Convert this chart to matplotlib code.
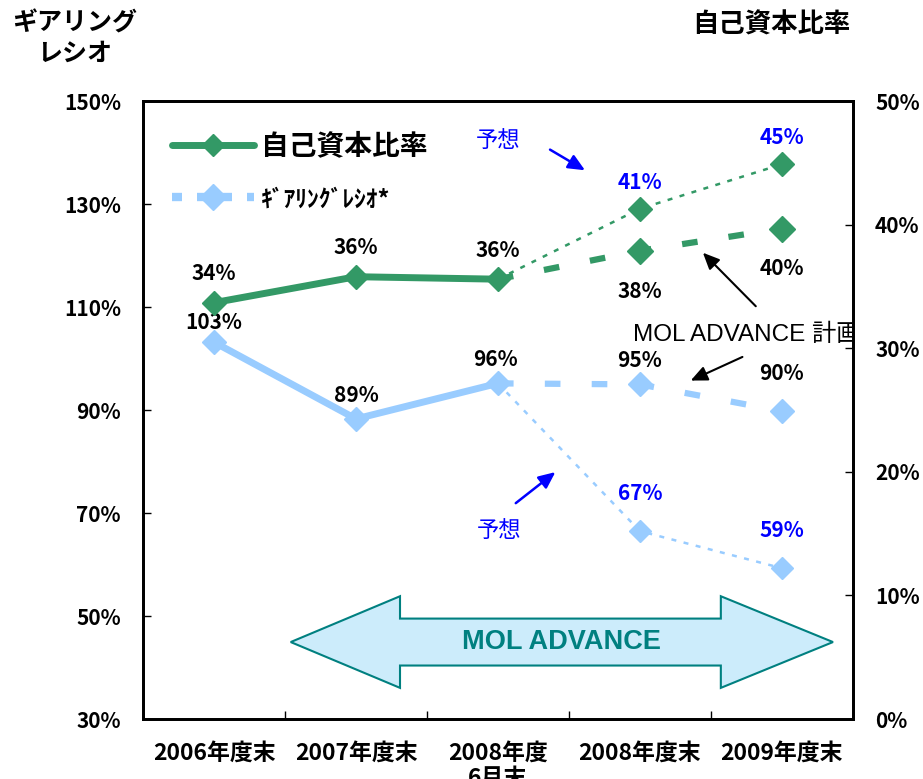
import matplotlib
matplotlib.use("Agg")
import matplotlib.pyplot as plt
from matplotlib.patches import Polygon
from matplotlib.lines import Line2D

plt.rcParams['font.family'] = ['Liberation Sans Narrow', 'Noto Sans CJK JP', 'DejaVu Sans']

categories = ["2006年度末", "2007年度末", "2008年度\n6月末", "2008年度末", "2009年度末"]

# equity ratio (right axis, %)
equity_actual = [33.7, 35.8, 35.6]
equity_plan = [35.6, 37.9, 39.7]
equity_fcst = [35.6, 41.3, 44.9]
equity_labels_actual = ["34%", "36%", "36%"]
equity_labels_plan = ["38%", "40%"]
equity_labels_fcst = ["41%", "45%"]

# gearing ratio (left axis, %)
gear_actual = [103.2, 88.3, 95.2]
gear_plan = [95.2, 95.0, 89.8]
gear_fcst = [95.2, 66.5, 59.3]
gear_labels_actual = ["103%", "89%", "96%"]
gear_labels_plan = ["95%", "90%"]
gear_labels_fcst = ["67%", "59%"]

left_ticks = [30, 50, 70, 90, 110, 130, 150]
right_ticks = [0, 10, 20, 30, 40, 50]

GREEN = "#339966"
LBLUE = "#99ccff"
TEAL = "#008080"

x_act = [0, 1, 2]
x_fut = [2, 3, 4]

fig = plt.figure(figsize=(9.23, 7.79), dpi=100)
ax = fig.add_axes([0.155, 0.077, 0.769, 0.793])
ax2 = ax.twinx()

ax.set_xlim(-0.5, 4.5)
ax.set_ylim(30, 150)
ax2.set_ylim(0, 50)

# gearing lines
ax.plot(x_act, gear_actual, color=LBLUE, lw=5, marker="D", ms=12, zorder=3)
ax.plot(x_fut, gear_plan, color=LBLUE, lw=4.5, dashes=(2.5, 5), marker="D", ms=12,
        markevery=[1, 2], zorder=3)
ax.plot(x_fut, gear_fcst, color=LBLUE, lw=1.8, dashes=(2, 3), marker="D", ms=11,
        markevery=[1, 2], zorder=3)

# equity lines
ax2.plot(x_act, equity_actual, color=GREEN, lw=5, marker="D", ms=12, zorder=3)
ax2.plot(x_fut, equity_plan, color=GREEN, lw=4.5, dashes=(2.5, 5), marker="D", ms=13,
         markevery=[1, 2], zorder=3)
ax2.plot(x_fut, equity_fcst, color=GREEN, lw=1.8, dashes=(2, 3), marker="D", ms=12,
         markevery=[1, 2], zorder=3)

lab = dict(fontsize=15, fontweight="bold", ha="center", va="center",
           textcoords="offset points")
for i, t in enumerate(equity_labels_actual):
    ax2.annotate(t, (x_act[i], equity_actual[i]), xytext=(0, 21), color="black", **lab)
for i, t in enumerate(equity_labels_plan):
    ax2.annotate(t, (x_fut[i + 1], equity_plan[i + 1]), xytext=(0, -29), color="black", **lab)
for i, t in enumerate(equity_labels_fcst):
    ax2.annotate(t, (x_fut[i + 1], equity_fcst[i + 1]), xytext=(0, 19), color="blue", **lab)
gear_off = [(0, 14), (0, 17), (-2, 17)]
for i, t in enumerate(gear_labels_actual):
    ax.annotate(t, (x_act[i], gear_actual[i]), xytext=gear_off[i], color="black", **lab)
gear_plan_off = [(0, 17), (0, 27)]
for i, t in enumerate(gear_labels_plan):
    ax.annotate(t, (x_fut[i + 1], gear_plan[i + 1]), xytext=gear_plan_off[i], color="black", **lab)
for i, t in enumerate(gear_labels_fcst):
    ax.annotate(t, (x_fut[i + 1], gear_fcst[i + 1]), xytext=(0, 27), color="blue", **lab)

# forecast notes
blue_arrow = dict(arrowstyle="-|>,head_length=1.0,head_width=0.45", color="blue", lw=1.8)
ax2.text(2.0, 46.8, "予想", color="blue", fontsize=16, ha="center", va="center",
         family=["Noto Sans CJK JP"])
ax2.annotate("", xy=(2.63, 44.3), xytext=(2.35, 46.2), arrowprops=blue_arrow)
ax.text(2.01, 66.7, "予想", color="blue", fontsize=16, ha="center", va="center",
        family=["Noto Sans CJK JP"])
ax.annotate("", xy=(2.42, 78.3), xytext=(2.11, 71.6), arrowprops=blue_arrow)

# plan note
black_arrow = dict(arrowstyle="-|>,head_length=1.0,head_width=0.45", color="black", lw=1.5)
ax2.text(2.95, 31.1, "MOL ADVANCE 計画", color="black", fontsize=17.5,
         ha="left", va="center", clip_on=True,
         family=["Liberation Sans", "Noto Sans CJK JP"])
ax2.annotate("", xy=(3.43, 37.9), xytext=(3.83, 33.25), arrowprops=black_arrow)
ax2.annotate("", xy=(3.34, 27.3), xytext=(3.74, 29.4), arrowprops=black_arrow)

# MOL ADVANCE double arrow
x0, x1, hx0, hx1 = 0.54, 4.36, 1.31, 3.57
yc, bh, hh = 44.95, 4.56, 8.9
arrow_pts = [(x0, yc), (hx0, yc + hh), (hx0, yc + bh), (hx1, yc + bh), (hx1, yc + hh),
             (x1, yc), (hx1, yc - hh), (hx1, yc - bh), (hx0, yc - bh), (hx0, yc - hh)]
ax.add_patch(Polygon(arrow_pts, closed=True, facecolor="#ccecfb", edgecolor=TEAL,
                     lw=1.5, zorder=2))
ax.text((x0 + x1) / 2, yc, "MOL ADVANCE", color=TEAL, fontsize=19.5, fontweight="bold",
        ha="center", va="center", family=["Liberation Sans", "DejaVu Sans"], zorder=3)

# legend
handles = [
    Line2D([], [], color=GREEN, lw=5, marker="D", ms=11, solid_capstyle="round"),
    Line2D([], [], color=LBLUE, lw=6, dashes=(1.2, 1.8), marker="D", ms=13),
]
leg = ax.legend(handles, ["自己資本比率", "ｷﾞｱﾘﾝｸﾞﾚｼｵ*"], loc="upper left",
                bbox_to_anchor=(0.006, 0.99), frameon=False, handlelength=2.95,
                handletextpad=0.25, labelspacing=0.95, fontsize=20)
texts = leg.get_texts()
texts[0].set_fontweight("bold")
texts[0].set_family(["Noto Sans CJK JP"])
texts[1].set_fontsize(17)
texts[1].set_fontweight("bold")
texts[1].set_family(["Noto Sans CJK JP"])

# axes styling
for a in (ax, ax2):
    for s in a.spines.values():
        s.set_linewidth(2)
ax.set_yticks(left_ticks)
ax.set_yticklabels([f"{v}%" for v in left_ticks])
ax2.set_yticks(right_ticks)
ax2.set_yticklabels([f"{v}%" for v in right_ticks])
ax.tick_params(axis="y", direction="in", length=6, width=1, pad=16, labelsize=15)
ax2.tick_params(axis="y", direction="in", length=6, width=1, pad=16, labelsize=15)
for t in ax.get_yticklabels() + ax2.get_yticklabels():
    t.set_fontweight("bold")

ax.set_xticks(range(len(categories)))
ax.set_xticklabels(categories, fontsize=16.5, fontweight="bold", va="top",
                   linespacing=1.15)
ax.tick_params(axis="x", which="major", length=0, pad=16)
ax.set_xticks([0.5, 1.5, 2.5, 3.5], minor=True)
ax.tick_params(axis="x", which="minor", direction="in", length=6, width=1)

fig.text(0.081, 0.985, "ギアリング\nレシオ", fontsize=18, fontweight="bold",
         ha="center", va="top", linespacing=1.3, family=["Noto Sans CJK JP"])
fig.text(0.836, 0.985, "自己資本比率", fontsize=19, fontweight="bold",
         ha="center", va="top", family=["Noto Sans CJK JP"])

fig.savefig("out.png", dpi=100)
